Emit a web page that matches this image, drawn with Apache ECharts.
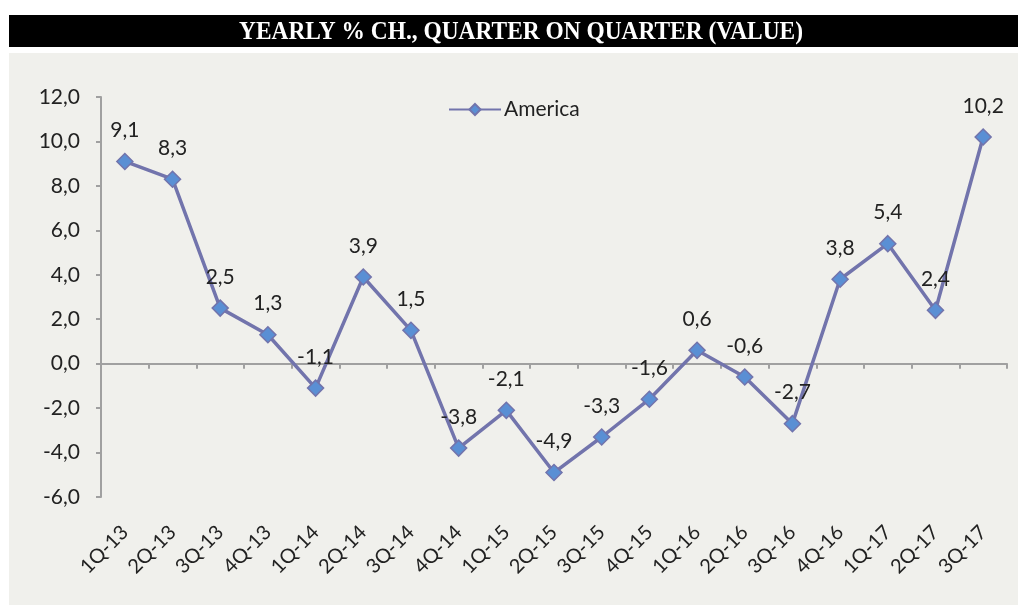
<!DOCTYPE html>
<html>
<head>
<meta charset="utf-8">
<script src="https://cdn.jsdelivr.net/npm/echarts@6/dist/echarts.min.js"></script>
<style>
html,body{margin:0;padding:0;background:#fff;}
#c{width:1018px;height:605px;}
</style>
</head>
<body>
<div id="c"></div>
<script>
const titleText = 'YEARLY % CH., QUARTER ON QUARTER (VALUE)';
const seriesName = 'America';
const categories = ['1Q-13','2Q-13','3Q-13','4Q-13','1Q-14','2Q-14','3Q-14','4Q-14','1Q-15','2Q-15','3Q-15','4Q-15','1Q-16','2Q-16','3Q-16','4Q-16','1Q-17','2Q-17','3Q-17'];
const values = [9.1, 8.3, 2.5, 1.3, -1.1, 3.9, 1.5, -3.8, -2.1, -4.9, -3.3, -1.6, 0.6, -0.6, -2.7, 3.8, 5.4, 2.4, 10.2];
const yMin = -6, yMax = 12, yStep = 2;

const fmt = v => Number(v).toFixed(1).replace('.', ',');
const font = 'Lato, "Open Sans", sans-serif';
const chart = echarts.init(document.getElementById('c'), null, {renderer: 'canvas'});
chart.setOption({
  animation: false,
  backgroundColor: '#ffffff',
  graphic: [
    {type: 'rect', z: -10, shape: {x: 9, y: 15, width: 1009, height: 32}, style: {fill: '#000'}},
    {type: 'rect', z: -10, shape: {x: 9, y: 53, width: 1009, height: 552}, style: {fill: '#f0f0ec'}},
    {type: 'text', z: 10, x: 521, y: 32, scaleX: 0.9, originX: 0, originY: 0,
     style: {text: titleText, fill: '#fff', font: 'bold 26px "Liberation Serif", "DejaVu Serif", serif', textAlign: 'center', textVerticalAlign: 'middle'}}
  ],
  grid: {left: 101, right: 11, top: 97, bottom: 108, containLabel: false},
  legend: {
    data: [seriesName], left: 443, top: 94, itemWidth: 52, itemHeight: 14, itemGap: 4,
    textStyle: {fontFamily: font, fontSize: 21, color: '#222', padding: [0, 0, 0, -2]}
  },
  xAxis: [
    {
      type: 'category', data: categories, position: 'bottom', boundaryGap: true,
      axisLine: {show: true, onZero: true, lineStyle: {color: '#a0a0a0', width: 2}},
      axisTick: {show: true, inside: false, length: 5, lineStyle: {color: '#a0a0a0', width: 2}},
      axisLabel: {show: false}, splitLine: {show: false}
    },
    {
      type: 'category', data: categories, position: 'bottom', boundaryGap: true,
      axisLine: {show: false, onZero: false}, axisTick: {show: false},
      axisLabel: {show: true, rotate: 45, margin: 32, fontFamily: font, fontSize: 20, color: '#222', interval: 0},
      splitLine: {show: false}
    }
  ],
  yAxis: {
    type: 'value', min: yMin, max: yMax, interval: yStep,
    axisLine: {show: true, lineStyle: {color: '#a0a0a0', width: 2}},
    axisTick: {show: true, inside: false, length: 5, lineStyle: {color: '#a0a0a0', width: 2}},
    axisLabel: {formatter: fmt, fontFamily: font, fontSize: 21, color: '#222', margin: 21},
    splitLine: {show: false}
  },
  series: [{
    name: seriesName, type: 'line', data: values, xAxisIndex: 0,
    symbol: 'diamond', symbolSize: 16,
    lineStyle: {color: '#7274ac', width: 3.5},
    itemStyle: {color: '#5a8fd4', borderColor: '#7274ac', borderWidth: 1.5},
    label: {show: true, position: 'top', distance: 12, formatter: p => fmt(p.value), fontFamily: font, fontSize: 21, color: '#222'}
  }]
});
</script>
</body>
</html>
